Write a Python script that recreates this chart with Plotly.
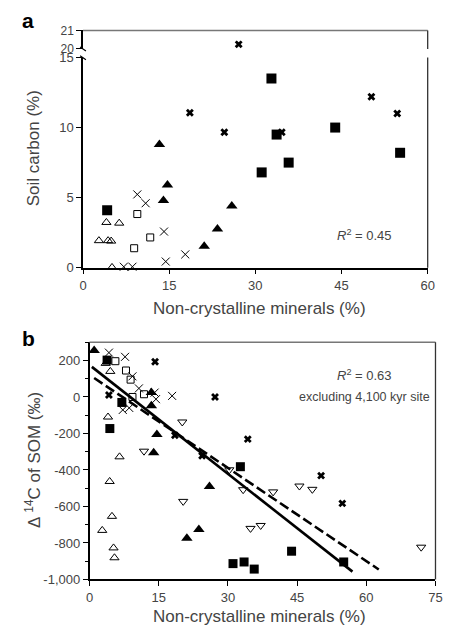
import plotly.graph_objects as go

# ---------------- Panel a data ----------------
a_fsq_x = [4.2, 32.8, 33.7, 43.9, 55.2, 31.1, 35.8]
a_fsq_y = [4.1, 13.5, 9.5, 10.0, 8.2, 6.8, 7.5]
a_ftri_x = [13.3, 14.7, 14.0, 23.4, 21.1, 25.9]
a_ftri_y = [8.8, 5.9, 4.8, 2.77, 1.53, 4.4]
a_bx_x = [50.2, 54.7, 24.6, 34.6, 18.6]
a_bx_y = [12.2, 11.0, 9.66, 9.66, 11.06]
a_bx_hi_x = [27.1]
a_bx_hi_y = [20.25]
a_tx_x = [9.45, 10.9, 14.1, 17.8, 14.4, 7.1, 8.6]
a_tx_y = [5.23, 4.6, 2.58, 0.95, 0.44, 0.07, 0.07]
a_osq_x = [9.45, 11.7, 8.9]
a_osq_y = [3.83, 2.16, 1.39]
a_otri_x = [4.07, 6.3, 2.77, 4.36, 4.9, 5.05]
a_otri_y = [3.23, 3.18, 1.93, 1.93, 1.9, 0.02]

# ---------------- Panel b data ----------------
b_fsq_x = [3.8, 7.0, 4.4, 32.7, 43.8, 31.1, 33.5, 35.7, 55.1]
b_fsq_y = [202, -30, -173, -382, -845, -913, -904, -943, -904]
b_ftri_x = [1.0, 13.4, 13.4, 14.6, 13.9, 26.0, 23.7, 21.1]
b_ftri_y = [255, 24, -48, -205, -305, -491, -726, -774]
b_bx_x = [14.2, 27.2, 4.2, 18.5, 24.4, 34.3, 50.2, 54.8]
b_bx_y = [193, 0, 11, -210, -322, -231, -431, -583]
b_tx_x = [4.2, 7.7, 9.3, 10.7, 14.1, 14.4, 17.9, 7.2, 8.6]
b_tx_y = [243, 220, 113, 47, 24, -12, 6, -71, -60]
b_osq_x = [5.6, 7.9, 8.9, 11.8, 9.3]
b_osq_y = [196, 145, 95, 15, 0]
b_otri_x = [3.5, 4.5, 4.0, 6.5, 4.36, 4.86, 2.75, 5.2, 5.4]
b_otri_y = [184, 140, -110, -328, -463, -654, -731, -827, -881]
b_odtri_x = [20.1, 11.8, 20.3, 30.3, 33.3, 39.8, 45.5, 48.3, 34.9, 37.1, 71.9]
b_odtri_y = [-137, -297, -572, -399, -508, -520, -488, -506, -720, -704, -823]

# regression lines (end points)
fit_all_x = [0.5, 57.0]
fit_all_y = [165, -957]
fit_excl_x = [1.0, 62.7]
fit_excl_y = [104, -945]

a_xticks = [0, 15, 30, 45, 60]
a_yticks = [0, 5, 10, 15]
a_yticks_hi = [20, 21]
b_xticks = [0, 15, 30, 45, 60, 75]
b_yticks = [-1000, -800, -600, -400, -200, 0, 200]
b_yticklabels = ["-1,000", "-800", "-600", "-400", "-200", "0", "200"]

W, H = 450, 637
def fx(px):
    return px / W
def fy(py):
    return 1 - py / H

FONT = "Liberation Sans, Arial, sans-serif"
TXT = "#444444"

fig = go.Figure()

def add(x, y, symbol, size, xa, ya, filled=True, lw=1.0):
    fig.add_trace(go.Scatter(
        x=x, y=y, mode="markers", xaxis=xa, yaxis=ya, cliponaxis=False,
        marker=dict(symbol=symbol, size=size, color="black",
                    line=dict(color="black", width=lw if not filled else 0)),
        hoverinfo="skip"))

# panel a (lower)
add(a_tx_x, a_tx_y, "x-thin-open", 8, "x", "y", filled=False, lw=1.0)
add(a_osq_x, a_osq_y, "square-open", 7, "x", "y", filled=False, lw=1.0)
add(a_otri_x, a_otri_y, "triangle-up-open", 8, "x", "y", filled=False, lw=1.0)
add(a_fsq_x, a_fsq_y, "square", 10, "x", "y")
add(a_ftri_x, a_ftri_y, "triangle-up", 10, "x", "y")
add(a_bx_x, a_bx_y, "x", 7, "x", "y")
# panel a (upper)
add(a_bx_hi_x, a_bx_hi_y, "x", 7, "x2", "y2")

# panel b lines
fig.add_trace(go.Scatter(x=fit_all_x, y=fit_all_y, mode="lines", xaxis="x3", yaxis="y3",
                         line=dict(color="black", width=2.6), hoverinfo="skip"))
fig.add_trace(go.Scatter(x=fit_excl_x, y=fit_excl_y, mode="lines", xaxis="x3", yaxis="y3",
                         line=dict(color="black", width=2.6, dash="10px,4px"), hoverinfo="skip"))
# panel b markers
add(b_tx_x, b_tx_y, "x-thin-open", 8, "x3", "y3", filled=False, lw=1.0)
add(b_osq_x, b_osq_y, "square-open", 7, "x3", "y3", filled=False, lw=1.0)
add(b_otri_x, b_otri_y, "triangle-up-open", 8, "x3", "y3", filled=False, lw=1.0)
add(b_odtri_x, b_odtri_y, "triangle-down-open", 8, "x3", "y3", filled=False, lw=1.0)
add(b_fsq_x, b_fsq_y, "square", 9, "x3", "y3")
add(b_ftri_x, b_ftri_y, "triangle-up", 10, "x3", "y3")
add(b_bx_x, b_bx_y, "x", 7, "x3", "y3")

tickfont = dict(family=FONT, size=13, color=TXT)
axis_common = dict(showline=True, linecolor="black", linewidth=1.5, ticks="outside",
                   ticklen=5, tickwidth=1.2, tickcolor="black", showgrid=False,
                   zeroline=False, tickfont=tickfont)
axis_hi = dict(axis_common)
axis_hi["tickfont"] = dict(family=FONT, size=12, color=TXT)

a_xdom = [fx(81), fx(434.3)]
a_ydom_lo = [fy(267), fy(51.7)]
a_ydom_hi = [fy(43), fy(24)]
b_xdom = [fx(87.7), fx(442.3)]
b_ydom = [fy(586.3), fy(343.3)]

fig.update_layout(
    width=W, height=H, margin=dict(l=0, r=0, t=0, b=0),
    paper_bgcolor="white", plot_bgcolor="white", showlegend=False,
    xaxis=dict(domain=a_xdom, range=[0, 60], tickvals=a_xticks, anchor="y", **axis_common),
    yaxis=dict(domain=a_ydom_lo, range=[0, 15], tickvals=a_yticks, anchor="x", **axis_common),
    xaxis2=dict(domain=a_xdom, range=[0, 60], anchor="y2", visible=False),
    yaxis2=dict(domain=a_ydom_hi, range=[20, 21], tickvals=a_yticks_hi, anchor="x2", **axis_hi),
    xaxis3=dict(domain=b_xdom, range=[0, 75], tickvals=b_xticks, anchor="y3", **axis_common),
    yaxis3=dict(domain=b_ydom, range=[-1000, 300], tickvals=b_yticks, ticktext=b_yticklabels,
                anchor="x3",
                minor=dict(dtick=100, tick0=0, ticks="outside", ticklen=3, tickcolor="black",
                           tickwidth=1, showgrid=False),
                **axis_common),
)

frame_grey = "#777777"
frame_dark = "#333333"
shapes = [
    # panel a upper top & right
    dict(type="line", xref="x2 domain", yref="y2 domain", x0=0, x1=1, y0=1, y1=1,
         line=dict(color=frame_grey, width=1.5)),
    dict(type="line", xref="x2 domain", yref="y2 domain", x0=1, x1=1, y0=0, y1=1,
         line=dict(color=frame_dark, width=1.3)),
    dict(type="line", xref="x domain", yref="y domain", x0=1, x1=1, y0=0, y1=1,
         line=dict(color=frame_dark, width=1.3)),
    # panel b top & right
    dict(type="line", xref="x3 domain", yref="y3 domain", x0=0, x1=1, y0=1, y1=1,
         line=dict(color=frame_grey, width=1.5)),
    dict(type="line", xref="x3 domain", yref="y3 domain", x0=1, x1=1, y0=0, y1=1,
         line=dict(color=frame_dark, width=1.3)),
    # axis break marks
    dict(type="line", xref="paper", yref="paper", x0=fx(78), x1=fx(84), y0=fy(41), y1=fy(45),
         line=dict(color="black", width=1.2)),
    dict(type="line", xref="paper", yref="paper", x0=fx(78), x1=fx(84), y0=fy(50), y1=fy(54),
         line=dict(color="black", width=1.2)),
]
fig.update_layout(shapes=shapes)

ann = []
def text(x, y, s, size=17, xref="paper", yref="paper", angle=0, color=TXT,
         xanchor="center", yanchor="middle"):
    ann.append(dict(x=x, y=y, xref=xref, yref=yref, text=s, showarrow=False, textangle=angle,
                    xanchor=xanchor, yanchor=yanchor,
                    font=dict(family=FONT, size=size, color=color)))

text(fx(25), fy(14), "<b>a</b>", size=21, color="black")
text(fx(25), fy(340), "<b>b</b>", size=21, color="black")
text(fx(30), fy(144.5), "Soil carbon (%)", size=17, angle=-90)
text(fx(29), fy(463.5), "\u0394 <sup>14</sup>C of SOM (\u2030)", size=17, angle=-90)
text(fx(262), fy(309), "Non-crystalline minerals (%)", size=17)
text(fx(262), fy(624), "Non-crystalline minerals (%)", size=17)
text(49, 2.3, "<i>R</i><sup>2</sup> = 0.45", size=13, xref="x", yref="y")
text(59.7, 121, "<i>R</i><sup>2</sup> = 0.63", size=13, xref="x3", yref="y3")
text(59.7, 2, "excluding 4,100 kyr site", size=12.5, xref="x3", yref="y3")
fig.update_layout(annotations=ann)

fig.write_html("out.html", config={"displayModeBar": False},
               post_script="document.body.style.margin='0px';document.body.style.overflow='hidden';")
